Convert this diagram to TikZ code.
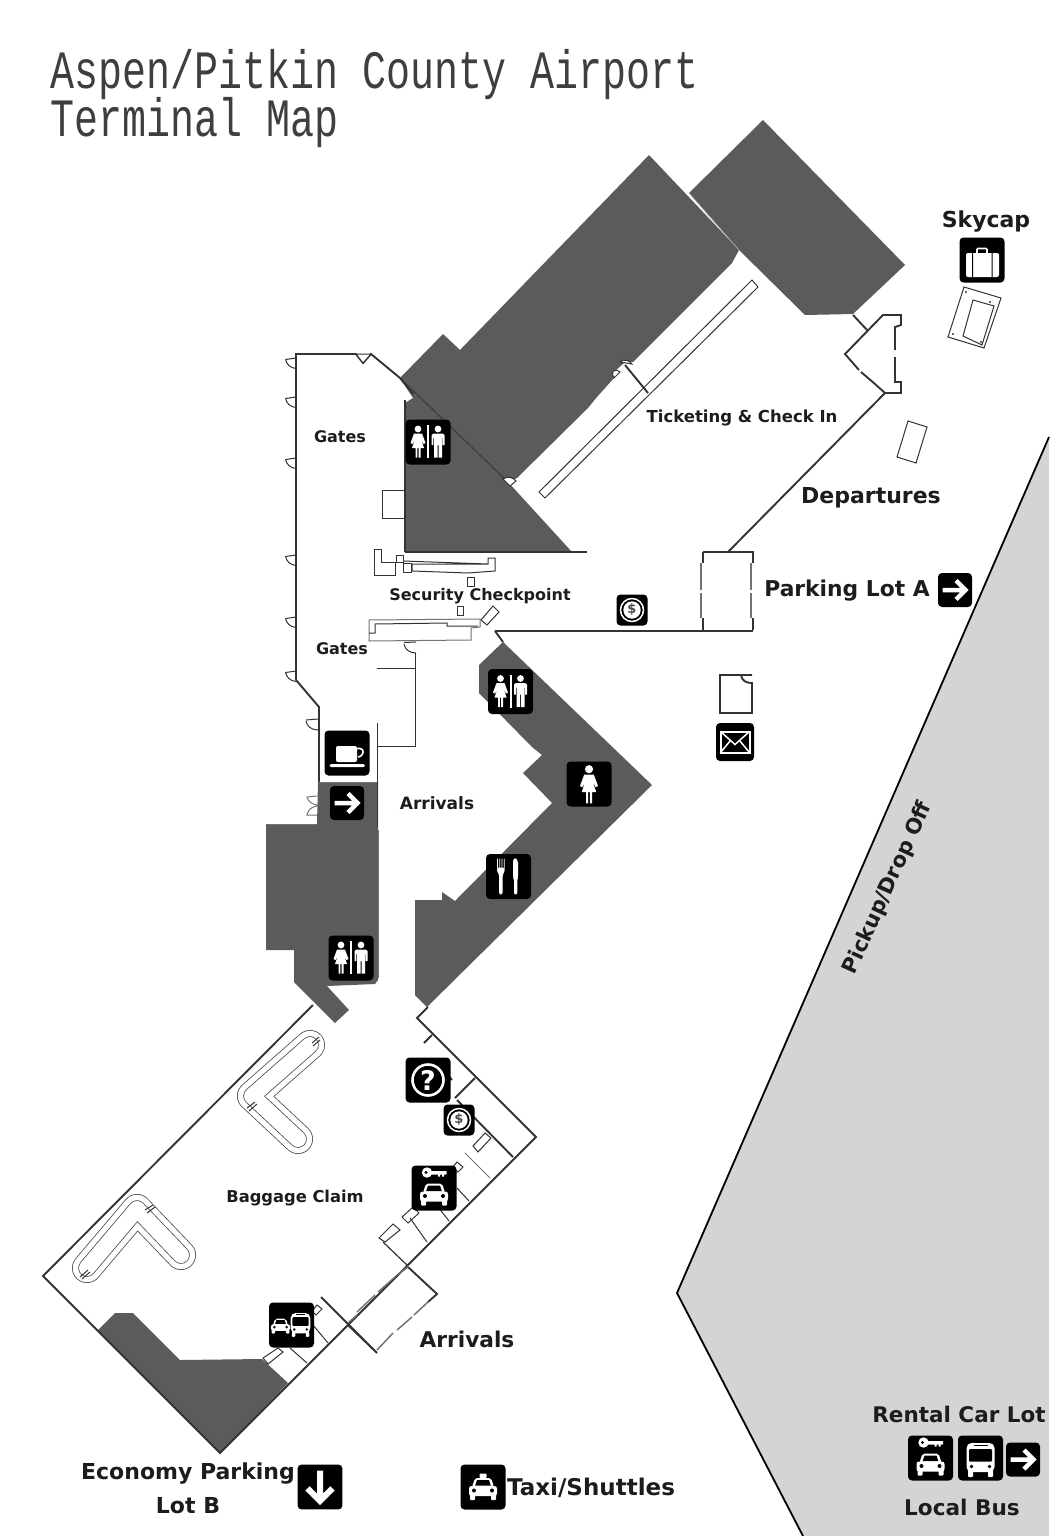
\documentclass[tikz,border=0pt]{standalone}
\usepackage{fontspec}
\setmainfont{DejaVu Sans}
\newfontfamily\titlefont{Liberation Mono}
\definecolor{darkmass}{HTML}{5B5B5B}
\definecolor{lotgrey}{HTML}{D4D4D4}
\definecolor{wallc}{HTML}{333333}
\definecolor{inkc}{HTML}{1C1C1C}
\newcommand{\womanfig}[1]{\begin{scope}[shift={(#1,0)}]
\fill[white] (0,-13) circle (3.4);
\fill[white] (-4,-8.5)--(4,-8.5)--(7.5,1)--(5.5,2)--(3,-3)--(6,6)--(2.5,6)--(2.5,15.5)--(0.7,15.5)--(0.7,6)--(-0.7,6)--(-0.7,15.5)--(-2.5,15.5)--(-2.5,6)--(-6,6)--(-3,-3)--(-5.5,2)--(-7.5,1)--cycle;
\end{scope}}
\newcommand{\manfig}[1]{\begin{scope}[shift={(#1,0)}]
\fill[white] (0,-13) circle (3.4);
\fill[white] (-4.5,-8.5)--(4.5,-8.5)--(6.5,-7)--(6.5,3)--(4.7,3)--(4.7,-4)--(4,-4)--(4,15.5)--(0.5,15.5)--(0.5,3)--(-0.5,3)--(-0.5,15.5)--(-4,15.5)--(-4,-4)--(-4.7,-4)--(-4.7,3)--(-6.5,3)--(-6.5,-7)--cycle;
\end{scope}}
\newcommand{\carfig}{%
\fill[white,rounded corners=2.5] (-14,9) rectangle (14,19);
\fill[white,rounded corners=2] (-11,10)--(-8,1)--(8,1)--(11,10)--cycle;
\fill[black] (-7.8,8.5)--(-6,3)--(6,3)--(7.8,8.5)--cycle;
\fill[white,rounded corners=1] (-13,17) rectangle (-8,23);
\fill[white,rounded corners=1] (8,17) rectangle (13,23);
\fill[black] (-9,13.5) circle (2) (9,13.5) circle (2);
}
\newcommand{\busfig}{%
\fill[white,rounded corners=5] (-14,-15) rectangle (14,14);
\fill[white,rounded corners=1] (-12.5,12) rectangle (-7.5,19);
\fill[white,rounded corners=1] (7.5,12) rectangle (12.5,19);
\fill[black,rounded corners=1] (-11.5,-9) rectangle (11.5,3.5);
\fill[black] (-7,-13) rectangle (7,-11.8);
\fill[black] (-9,8.5) circle (1.9) (9,8.5) circle (1.9);
}
\newcommand{\icobase}[1]{\fill[black,rounded corners=4] (-#1,-#1) rectangle (#1,#1);}
\tikzset{
 wall/.style={draw=wallc,line width=1.9pt,line join=miter},
 thinw/.style={draw=wallc,line width=1pt},
 paleline/.style={draw=black!55,line width=1pt},
 lab/.style={inner sep=0pt,text=inkc,font=\fontsize{#1}{#1}\selectfont\bfseries},
 pics/iconrest/.style={code={\icobase{22.5}\womanfig{-10}\manfig{10}\fill[white] (-1,-17) rectangle (1,16);}},
 pics/iconwoman/.style={code={\icobase{22.5}\begin{scope}[shift={(0,0.8)},scale=1.2]\womanfig{0}\end{scope}}},
 pics/iconfood/.style={code={\icobase{22.5}
   \fill[white] (-11.5,-18) rectangle (-10.7,-8) (-9.2,-18) rectangle (-8.4,-8) (-6.9,-18) rectangle (-6.1,-8) (-4.6,-18) rectangle (-3.8,-8);
   \fill[white,rounded corners=1.5] (-11.5,-9) -- (-3.8,-9) -- (-3.8,-5) -- (-5.8,-2) -- (-5.8,18) -- (-9.4,18) -- (-9.4,-2) -- (-11.5,-5) -- cycle;
   \fill[white,rounded corners=1.5] (4.5,-17) -- (7,-19) -- (9.5,-15) -- (9.5,1) -- (8.8,3) -- (8.8,18) -- (5.5,18) -- (5.5,2) -- (4.5,1) -- cycle;}},
 pics/iconcup/.style={code={\icobase{22.5}
   \fill[white,rounded corners=2] (-11,-7) rectangle (10,9);
   \draw[white,line width=1.6pt] (10,-4.5) -- (13,-4.5) .. controls (17.5,-4.5) and (17.5,3) .. (11,4);
   \fill[white,rounded corners=1.5] (-17.5,11) rectangle (18,14);}},
 pics/iconarrow/.style={code={\icobase{17}
   \draw[white,line width=#1,line join=miter] (-12.5,0)--(10,0) (1,-9.5)--(10.5,0)--(1,9.5);}},
 pics/iconmoney/.style={code={\icobase{15.5}
   \draw[white,line width=1.5pt] (0,0) circle (11.5);
   \fill[white] (0,0) circle (8.7);
   \node[inner sep=0pt,text=black!70,font=\fontsize{13}{13}\selectfont\bfseries] (dollarmark) at (0,0) {\$};}},
 pics/iconhelp/.style={code={\icobase{22.5}
   \draw[white,line width=2.6pt] (0,0) circle (15.5);
   \node[inner sep=0pt,text=white,font=\fontsize{27}{27}\selectfont\bfseries] (helpmark) at (0,0) {?};}},
 pics/iconrental/.style={code={\icobase{22.5}
   \begin{scope}[shift={(0,-5.5)}]\carfig\end{scope}
   \fill[white] (-7,-15.5) circle (5.2);
   \fill[black] (-8,-15.5) circle (1.6);
   \fill[white,rounded corners=0.6] (-4,-17) rectangle (12.7,-13.5);
   \fill[white] (4,-14) rectangle (6,-11.5) (8,-14) rectangle (10,-11.5);}},
 pics/iconbus/.style={code={\icobase{22.5}\busfig}},
 pics/icontaxi/.style={code={\icobase{22.5}
   \begin{scope}[shift={(0,-10)},scale=1.0]\carfig\end{scope}
   \fill[white,rounded corners=0.8] (-3.5,-13.5) rectangle (3.5,-9);}},
 pics/icontransit/.style={code={\icobase{22.5}
   \begin{scope}[shift={(9,-1.5)},scale=0.7]\busfig\end{scope}
   \begin{scope}[shift={(-11,-7)},scale=0.68]\carfig\end{scope}}},
 pics/iconcase/.style={code={\icobase{22.5}
   \draw[white,line width=1.6pt,rounded corners=1] (-5,-7) -- (-5,-11.5) -- (5,-11.5) -- (5,-7);
   \fill[white,rounded corners=2] (-16,-7) rectangle (17,17);
   \fill[black] (-10,-7) rectangle (-9,17) (9.5,-7) rectangle (10.5,17);}},
 pics/iconmail/.style={code={\icobase{19}
   \draw[white,line width=2pt] (-14.5,-10.5) rectangle (14.5,10.5);
   \draw[white,line width=1.5pt] (-14.5,-10.5) -- (0,2.5) -- (14.5,-10.5) (-14.5,10.5) -- (-4.5,-1.5) (14.5,10.5) -- (4.5,-1.5);}},
 pics/gatedoor/.style={code={\draw[thinw] (0,0)--(-10.5,1.5) (-10.5,1.5) .. controls (-9.5,6) and (-6,10) .. (0,10.5);}},
 pics/belt/.style={code={
   \draw[black!70,line width=30pt,line cap=round,line join=round] #1;
   \draw[white,line width=28.4pt,line cap=round,line join=round] #1;
   \draw[black!70,line width=17.6pt,line cap=round,line join=round] #1;
   \draw[white,line width=16pt,line cap=round,line join=round] #1;}},
}
\begin{document}
\begin{tikzpicture}[x=1pt,y=-1pt]
\useasboundingbox (0,0) rectangle (1049,1536);
% lot
\fill[lotgrey] (1049,437) -- (677,1293) -- (803,1536) -- (1049,1536) -- cycle;
\draw[black,line width=1.8pt] (1049,437) -- (677,1293) -- (803,1536);
% dark masses
\fill[darkmass] (400,378)--(443,334)--(460,350)--(649,155)--(739,250)--(732,263)--(633,362)--(625,362)--(614,372)--(614,378)--(597,397)--(588,408)--(517,478)--(508,482)--(572,552)--(405,552)--(405,403)--(413,398)--cycle;
\fill[darkmass] (689,193)--(763,120)--(905,265)--(853,314)--(805,315)--(739,250)--cycle;
\draw[white!65!black,line width=0.6pt] (689,193) -- (739,250);
\draw[black!80,line width=0.8pt] (400,378) -- (508,482);
\fill[darkmass] (503,642)--(652,785)--(427,1007)--(415,995)--(415,900)--(442,900)--(442,892)--(455,901)--(552,803)--(523,773)--(542,755)--(532,747)--(479,693)--(479,665)--cycle;
\fill[darkmass] (318,782)--(378,782)--(378,980)--(375,984)--(327,986)--(349,1010)--(335,1023)--(294,982)--(294,950)--(266,950)--(266,824)--(317,824)--cycle;
\fill[darkmass] (98,1330)--(115,1313)--(133,1313)--(180,1360)--(262,1359)--(288,1383)--(220,1453)--cycle;
% terminal walls
\draw[wall] (296,680)--(296,354)--(356,354)--(363,363)--(371,354)--(400,378)--(413,394);
\draw[thinw,fill=white] (356,354)--(371,354)--(363,363)--cycle;
\draw[wall] (296,680)--(319,707)--(319,782);
\draw[paleline] (318,782)--(378,782);
\draw[thinw] (377,723)--(377,827);
\draw[paleline] (378,830)--(378,978);
\draw[thinw] (377,746)--(415.5,746)--(415.5,653) (377,668)--(415.5,668);
\draw[thinw] (404,642.5)--(416,642) (404,644) .. controls (405,650) and (410,653) .. (416,653);
\draw[wall] (405,552)--(587,552);
\draw[wall] (405,400)--(405,552);
\draw[wall] (495,631)--(753,631);
\draw[wall] (495,631)--(503,642);
\draw[wall] (728,552)--(885,393);
% gate doors
\foreach \yy in {358,397,458,555,617,671} {\pic at (296,\yy) {gatedoor};}
\draw[thinw] (306,720)--(318,719) (306,721) .. controls (307,726) and (311,730) .. (318,730);
\draw[paleline] (317,796)--(307,797) .. controls (308,801) and (311,804) .. (317,805) (317,806) .. controls (311,807) and (308,810) .. (307,815)--(317,815);
\draw[paleline] (266,824)--(317,824);
% main entrance box
\draw[wall] (703,552)--(753,552)--(753,563) (703,552)--(703,563);
\draw[wall] (703,618)--(703,630) (753,618)--(753,630);
\draw[paleline,line width=1.3pt] (701,563)--(701,590) (701,593)--(701,618) (751,563)--(751,590) (751,593)--(751,618);
% ticketing
\draw[thinw,fill=white] (752,280)--(758,287)--(545,498)--(539,492)--cycle;
\draw[wall] (625,365)--(648,393);
\draw[thinw,fill=white] (614,378) .. controls (610,373) and (614,367) .. (620,372) -- cycle;
\draw[thinw,fill=white] (620,362) .. controls (624,358) and (630,361) .. (632,364) -- cycle;
\draw[thinw,fill=white] (503,479) .. controls (507,476) and (513,477) .. (516,481) -- (510,486) -- cycle;
% vestibule
\draw[wall] (853,315)--(868,331);
\draw[wall] (885,393)--(901,393)--(901,382)--(895,382)--(895,357);
\draw[wall] (895,350)--(895,327)--(901,325)--(901,315)--(883,315)--(845,354)--(859,370);
\draw[wall] (861,372)--(875,384)--(885,393);
% security
\draw[thinw] (382,518)--(404,518) (382,490)--(404,490) (382,490)--(382,518);
\draw[thinw] (374,549)--(381,549)--(381,562)--(395,562)--(395,575)--(374,575)--cycle;
\draw[thinw] (396,555) rectangle (403,562);
\draw[thinw] (403,563) rectangle (411,572);
\draw[thinw] (403,561)--(488,564) (412,564)--(488,564)--(488,558)--(495,558)--(495,571)--(468,573)--(412,571)--cycle;
\draw[thinw] (467,577) rectangle (474,586);
\draw[thinw] (457,606) rectangle (463,615);
\draw[paleline] (369,620)--(480,619)--(480,627)--(471,628)--(471,640)--(369,641)--cycle;
\draw[thinw] (369,633)--(375,633)--(375,624)--(447,623)--(447,626)--(478,626);
\draw[thinw] (481,620)--(493,606)--(499,612)--(487,625)--cycle;
% mailroom
\draw[wall] (752,675)--(720,675)--(720,713)--(752,713)--(752,683) .. controls (746,683) and (742,681) .. (741,675);
% baggage
\draw[wall] (313,1005)--(43,1276)--(220,1453)--(536,1137)--(417,1018)--(428,1007);
\draw[wall] (432,1035)--(424,1043);
\draw[wall] (475,1078)--(455,1098);
\draw[wall] (457,1100)--(513,1157);
\draw[wall] (444,1070)--(452,1080);
\draw[thinw] (473,1146)--(485,1133)--(491,1138)--(478,1152)--cycle;
\draw[paleline] (465,1153)--(490,1178);
\draw[thinw] (452,1168)--(457,1162)--(463,1167)--(458,1172)--cycle;
\draw[thinw] (457,1188)--(469,1201) (438,1207)--(449,1221);
\draw[thinw] (402,1217)--(413,1207)--(419,1213)--(408,1223)--cycle;
\draw[thinw] (410,1218)--(427,1242);
\draw[thinw] (379,1238)--(393,1224)--(400,1230)--(385,1242)--cycle;
\draw[thinw,line width=1.2pt] (383,1242)--(407,1265);
\draw[wall] (408,1267)--(437,1294)--(428,1302) (377,1353)--(348,1325) (321,1297)--(377,1353);
\draw[paleline,line width=1.5pt] (408,1267)--(397,1275) (395,1277)--(378,1292) (375,1295)--(357,1312) (357,1315)--(348,1323);
\draw[paleline,line width=1.5pt] (428,1302)--(414,1315) (412,1317)--(397,1330) (393,1333)--(377,1350);
\draw[thinw] (263,1358)--(278,1348)--(283,1352)--(268,1364)--cycle;
\draw[thinw] (290,1348)--(307,1363) (313,1325)--(328,1343);
\draw[thinw] (312,1311)--(317,1305)--(322,1309)--(316,1315)--cycle;
% carousels
\pic {belt={(310,1045)--(252,1096)--(298,1139)}};
\pic {belt={(87,1268)--(137,1209)--(181,1255)}};
\draw[thinw] (312,1043)--(319,1037) (313,1046)--(320,1040) (247,1108)--(255,1102) (249,1111)--(257,1104);
\draw[thinw] (145,1210)--(153,1205) (147,1213)--(155,1207) (80,1277)--(88,1270) (82,1279)--(90,1272);
% skycap / kerb boxes
\draw[thinw] (964,287)--(1001,298)--(984,348)--(948,337)--cycle;
\draw[thinw] (973,300)--(994,306)--(982,345)--(963,336)--cycle;
\fill[wallc] (966,292) circle (1.2) (990,302) circle (1.2) (953,334) circle (1.2) (981,342) circle (1.2);
\draw[thinw] (908,421)--(927,427)--(916,463)--(897,457)--cycle;
% icons
\pic at (428,442) {iconrest};
\pic at (510.5,691.5) {iconrest};
\pic at (351,958) {iconrest};
\pic at (589,784) {iconwoman};
\pic at (508.5,876.5) {iconfood};
\pic at (347,753) {iconcup};
\pic at (347,803) {iconarrow=4.5pt};
\pic at (955,590) {iconarrow=4.5pt};
\pic at (1023,1459.5) {iconarrow=4.5pt};
\pic[scale=1.32,rotate=-90] at (320,1487) {iconarrow=6pt};
\pic at (632,610) {iconmoney};
\pic at (459,1120) {iconmoney};
\pic at (428,1080) {iconhelp};
\pic at (434,1188) {iconrental};
\pic at (930.5,1458) {iconrental};
\pic at (980.5,1458) {iconbus};
\pic at (483,1487) {icontaxi};
\pic at (291.5,1325) {icontransit};
\pic at (982,260) {iconcase};
\pic at (735,742) {iconmail};
% labels
\node[anchor=west,inner sep=0pt,text=inkc!85] (title1) at (50,75) {\scalebox{1}[1.35]{\fontsize{40}{40}\titlefont Aspen/Pitkin County Airport}};
\node[anchor=west,inner sep=0pt,text=inkc!85] (title2) at (50,123) {\scalebox{1}[1.35]{\fontsize{40}{40}\titlefont Terminal Map}};
\node[lab=16] (gatesa) at (340,437) {Gates};
\node[lab=16] (gatesb) at (342,649) {Gates};
\node[lab=16] (security) at (480,596) {Security Checkpoint};
\node[lab=16.5] (ticketing) at (742,418) {Ticketing \& Check In};
\node[lab=22] (departures) at (871,498) {Departures};
\node[lab=21.8] (lota) at (847,591) {Parking Lot A};
\node[lab=17] (arrivalsa) at (437,803) {Arrivals};
\node[lab=21,rotate=65.5] (pickup) at (888,888) {Pickup/Drop Off};
\node[lab=16.3] (baggage) at (295,1198) {Baggage Claim};
\node[lab=21.7] (arrivalsb) at (467,1339) {Arrivals};
\node[lab=22] (skycap) at (986,222) {Skycap};
\node[lab=21.5] (rental) at (959,1414) {Rental Car Lot};
\node[lab=21.6] (bus) at (962,1507) {Local Bus};
\node[lab=22] (economy) at (188,1473) {Economy Parking};
\node[lab=22] (lotb) at (188,1506) {Lot B};
\node[lab=23] (taxi) at (591,1488) {Taxi/Shuttles};
\end{tikzpicture}
\end{document}
